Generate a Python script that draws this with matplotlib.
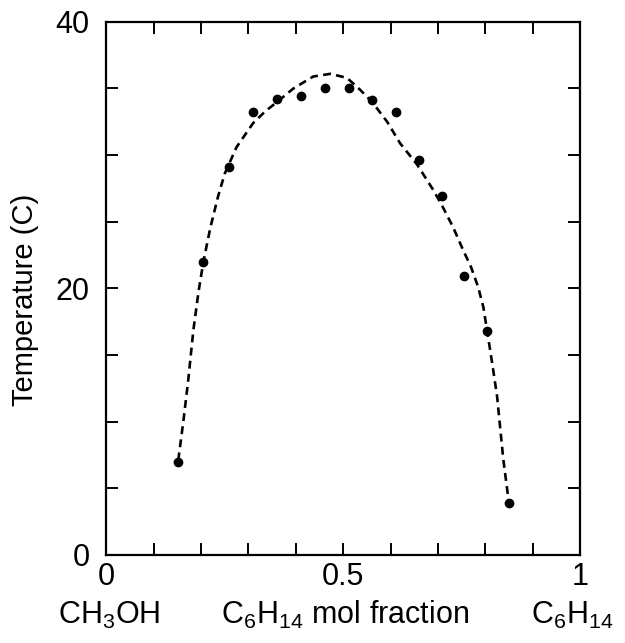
import matplotlib
matplotlib.use("Agg")
import matplotlib.pyplot as plt
from matplotlib.ticker import MultipleLocator

# Data
x_points = [0.152, 0.205, 0.259, 0.310, 0.361, 0.411, 0.462, 0.513, 0.561, 0.612, 0.660, 0.709, 0.755, 0.804, 0.850]
t_points = [7.0, 22.0, 29.1, 33.2, 34.2, 34.4, 35.0, 35.0, 34.1, 33.2, 29.6, 26.9, 20.9, 16.8, 3.9]

x_curve = [0.152, 0.163, 0.173, 0.184, 0.195, 0.205, 0.220, 0.236, 0.250, 0.275, 0.310, 0.336, 0.361,
           0.395, 0.437, 0.473, 0.508, 0.536, 0.561, 0.593, 0.620, 0.656, 0.690, 0.709, 0.732,
           0.753, 0.770, 0.785, 0.796, 0.804, 0.815, 0.825, 0.838, 0.850]
t_curve = [7.1, 10.1, 13.1, 16.9, 19.8, 22.0, 24.6, 26.9, 28.6, 30.6, 32.4, 33.3, 34.0,
           35.0, 35.9, 36.1, 35.8, 34.9, 34.0, 32.5, 30.9, 29.3, 27.4, 26.2, 24.6,
           22.9, 21.6, 20.1, 18.6, 16.8, 14.3, 11.9, 7.2, 3.9]

x_ticklabels = ["0", "0.5", "1"]
y_ticklabels = ["0", "20", "40"]

fam = ["Liberation Sans", "DejaVu Sans"]
plt.rcParams["font.family"] = fam
plt.rcParams["mathtext.fontset"] = "custom"
plt.rcParams["mathtext.rm"] = "Liberation Sans"
plt.rcParams["mathtext.it"] = "Liberation Sans"
plt.rcParams["mathtext.default"] = "rm"

fig = plt.figure(figsize=(6.25, 6.43), dpi=100)
ax = fig.add_axes([0.17, 0.137, 0.758, 0.829])

ax.plot(x_curve, t_curve, color="black", lw=1.9, linestyle=(0, (3.0, 2.0)))
ax.plot(x_points, t_points, "o", color="black", markersize=6)

ax.set_xlim(0, 1)
ax.set_ylim(0, 40)
ax.set_xticks([0, 0.5, 1])
ax.set_xticklabels(x_ticklabels)
ax.set_yticks([0, 20, 40])
ax.set_yticklabels(y_ticklabels)
ax.xaxis.set_minor_locator(MultipleLocator(0.1))
ax.yaxis.set_minor_locator(MultipleLocator(5))

for s in ax.spines.values():
    s.set_linewidth(1.6)
ax.tick_params(which="both", direction="in", top=True, right=True, width=1.4, length=8.5, labelsize=22)
ax.tick_params(axis="x", which="major", pad=5)
ax.tick_params(axis="y", which="major", pad=12)

fig.text(0.040, 0.533, "Temperature (C)", fontsize=21, rotation=90, ha="center", va="center")

ty = 0.043
fig.text(0.175, ty, r"CH$_3$OH", fontsize=22, ha="center", va="center")
fig.text(0.552, ty, r"C$_6$H$_{14}$ mol fraction", fontsize=22, ha="center", va="center")
fig.text(0.915, ty, r"C$_6$H$_{14}$", fontsize=22, ha="center", va="center")

fig.savefig("out.png", dpi=100)
